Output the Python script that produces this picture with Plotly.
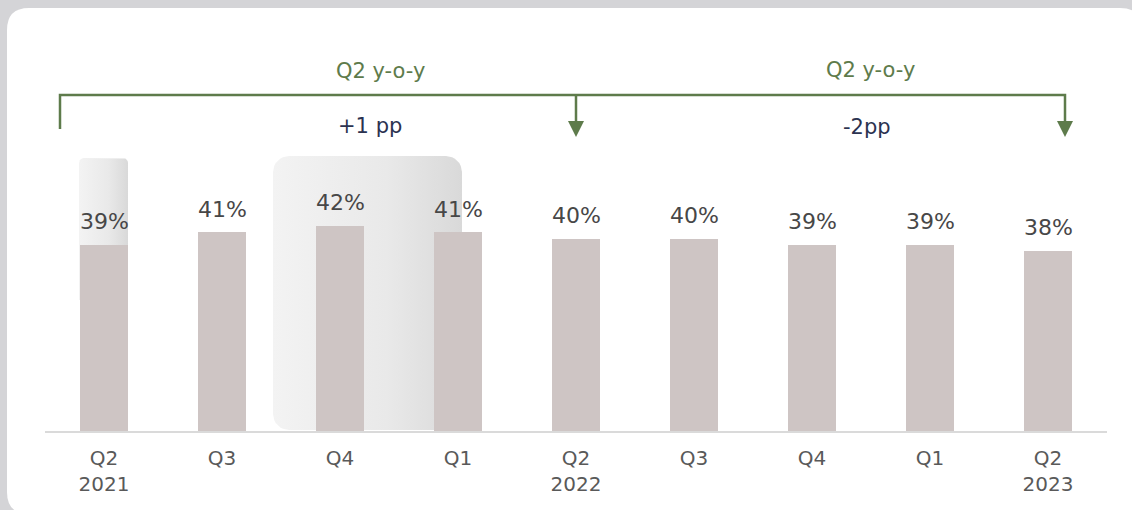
import math
import plotly.graph_objects as go

# ---------------- data ----------------
quarters = ["Q2", "Q3", "Q4", "Q1", "Q2", "Q3", "Q4", "Q1", "Q2"]
years = ["2021", "", "", "", "2022", "", "", "", "2023"]
values = [39, 41, 42, 41, 40, 40, 39, 39, 38]
bracket_titles = ["Q2 y-o-y", "Q2 y-o-y"]
bracket_changes = ["+1 pp", "-2pp"]

# ---------------- geometry helpers ----------------
W, H = 1132, 510
PLOT_L, PLOT_R, PLOT_T, PLOT_B = 45, 1107, 40, 431
Y0, PX_PER_UNIT = 9.2, 6.25
SLOT = (PLOT_R - PLOT_L) / len(values)
Y1 = Y0 + (PLOT_B - PLOT_T) / PX_PER_UNIT

def px(x):
    return x / W

def py(y):
    return 1 - y / H

def dx(x):  # pixel -> data x
    return (x - PLOT_L) / SLOT - 0.5

def dy(y):  # pixel -> data y
    return Y0 + (PLOT_B - y) / PX_PER_UNIT

def rounded_rect(x0, y0, x1, y1, r_top, r_bot, n=8):
    pts = []
    corners = [
        (x0 + r_top, y0 + r_top, r_top, 180, 270),
        (x1 - r_top, y0 + r_top, r_top, 270, 360),
        (x1 - r_bot, y1 - r_bot, r_bot, 0, 90),
        (x0 + r_bot, y1 - r_bot, r_bot, 90, 180),
    ]
    for cx, cy, r, a0, a1 in corners:
        for k in range(n + 1):
            a = math.radians(a0 + (a1 - a0) * k / n)
            pts.append((cx + r * math.cos(a), cy + r * math.sin(a)))
    pts.append(pts[0])
    return [dx(p[0]) for p in pts], [dy(p[1]) for p in pts]

GREEN = "#5e7b4b"
NAVY = "#2b3250"
FONT = "DejaVu Sans"

fig = go.Figure()

# highlight panels (gradient) on the base subplot, bars on an overlaying one above
for (x0, y0, x1, y1, rt, rb) in [(79, 158, 128, 300, 5, 0), (273, 156, 462, 430, 16, 16)]:
    xs, ys = rounded_rect(x0, y0, x1, y1, rt, rb)
    fig.add_trace(go.Scatter(
        x=xs, y=ys, mode="lines", fill="toself",
        line=dict(width=0, color="rgba(0,0,0,0)"),
        fillgradient=dict(type="horizontal",
                          colorscale=[[0, "#f3f3f3"], [0.6, "#e9e9e9"], [1, "#d9d9d9"]]),
        hoverinfo="skip", showlegend=False, xaxis="x", yaxis="y",
    ))

fig.add_trace(go.Bar(
    x=list(range(len(values))), y=values, width=0.415,
    marker=dict(color="#cec5c4", line=dict(width=0)),
    hoverinfo="skip", showlegend=False, xaxis="x2", yaxis="y2",
))

ticktext = [q if not y else f"{q}<br>{y}" for q, y in zip(quarters, years)]

annotations = []
for i, v in enumerate(values):
    annotations.append(dict(
        x=i, y=v, xref="x2", yref="y2", text=f"{v}%", showarrow=False,
        yshift=23, yanchor="middle",
        font=dict(family=FONT, size=22, color="#474747"),
    ))

for (cx, cy), t in zip([(380, 71), (870, 70)], bracket_titles):
    annotations.append(dict(x=px(cx), y=py(cy), xref="paper", yref="paper", text=t,
                            showarrow=False, xanchor="center", yanchor="middle",
                            font=dict(family=FONT, size=21, color=GREEN)))
for (cx, cy), t in zip([(370, 126), (867, 127)], bracket_changes):
    annotations.append(dict(x=px(cx), y=py(cy), xref="paper", yref="paper", text=t,
                            showarrow=False, xanchor="center", yanchor="middle",
                            font=dict(family=FONT, size=21, color=NAVY)))

def qpath(x0, y0, x1, y1, r):
    return (f"M {px(x0 + r)},{py(y0)} L {px(x1 - r)},{py(y0)} "
            f"Q {px(x1)},{py(y0)} {px(x1)},{py(y0 + r)} L {px(x1)},{py(y1 - r)} "
            f"Q {px(x1)},{py(y1)} {px(x1 - r)},{py(y1)} L {px(x0 + r)},{py(y1)} "
            f"Q {px(x0)},{py(y1)} {px(x0)},{py(y1 - r)} L {px(x0)},{py(y0 + r)} "
            f"Q {px(x0)},{py(y0)} {px(x0 + r)},{py(y0)} Z")

shapes = [
    dict(type="path", xref="paper", yref="paper", layer="below",
         path=qpath(7, 8, 1142, 514, 22), fillcolor="white", line=dict(width=0)),
    dict(type="path", xref="paper", yref="paper",
         path=(f"M {px(60)},{py(129)} L {px(60)},{py(95)} L {px(1065)},{py(95)} "
               f"L {px(1065)},{py(124)}"),
         line=dict(color=GREEN, width=2.5)),
    dict(type="line", xref="paper", yref="paper", x0=px(576), x1=px(576), y0=py(95), y1=py(123),
         line=dict(color=GREEN, width=2.5)),
]
for ax in (576, 1065):
    shapes.append(dict(type="path", xref="paper", yref="paper",
                       path=f"M {px(ax - 8)},{py(121)} L {px(ax + 8)},{py(121)} L {px(ax)},{py(137)} Z",
                       fillcolor=GREEN, line=dict(width=0)))

xdom = [px(PLOT_L), px(PLOT_R)]
ydom = [py(PLOT_B), py(PLOT_T)]
xr = [-0.5, len(values) - 0.5]

fig.update_layout(
    width=W, height=H,
    margin=dict(l=0, r=0, t=0, b=0),
    paper_bgcolor="#d4d4d7",
    plot_bgcolor="rgba(0,0,0,0)",
    xaxis=dict(domain=xdom, range=xr,
               tickvals=list(range(len(values))), ticktext=ticktext,
               tickfont=dict(family=FONT, size=20, color="#595959"),
               ticklabelstandoff=8,
               showline=True, linecolor="#dadada", linewidth=2,
               showgrid=False, zeroline=False, ticks="", automargin=False,
               fixedrange=True),
    yaxis=dict(domain=ydom, range=[Y0, Y1], visible=False,
               automargin=False, fixedrange=True),
    xaxis2=dict(domain=xdom, range=xr, overlaying="x", visible=False,
                automargin=False, fixedrange=True),
    yaxis2=dict(domain=ydom, range=[Y0, Y1], overlaying="y", visible=False,
                automargin=False, fixedrange=True),
    annotations=annotations,
    shapes=shapes,
    bargap=0,
    showlegend=False,
    font=dict(family=FONT),
)

fig.write_html("out.html", config={"displayModeBar": False},
               post_script="document.body.style.margin='0';document.body.style.overflow='hidden';")
